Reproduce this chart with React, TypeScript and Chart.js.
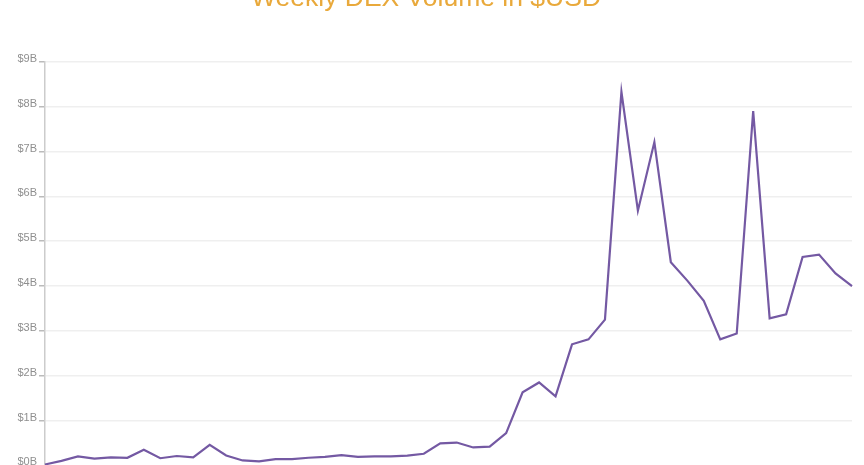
import React, { useEffect, useRef } from "react";
import { Chart, registerables } from "chart.js";

Chart.register(...registerables);

const titleText = "Weekly DEX Volume in $USD";

const weeks: string[] = Array.from({ length: 50 }, (_, i) => `Week ${i + 1}`);

const volumeB: number[] = [
  0.02, 0.1, 0.2, 0.15, 0.18, 0.17, 0.35, 0.16, 0.21, 0.18,
  0.46, 0.22, 0.11, 0.09, 0.14, 0.14, 0.17, 0.19, 0.23, 0.19,
  0.2, 0.2, 0.22, 0.26, 0.49, 0.51, 0.4, 0.42, 0.72, 1.63,
  1.85, 1.54, 2.7, 2.81, 3.25, 8.33, 5.68, 7.21, 4.53, 4.12,
  3.67, 2.81, 2.94, 7.9, 3.28, 3.37, 4.65, 4.7, 4.28, 4.0,
];

const yMin = 0;
const yMax = 9;
const yStep = 1;

export default function App() {
  const ref = useRef<HTMLCanvasElement | null>(null);

  useEffect(() => {
    if (!ref.current) return;
    const chart = new Chart(ref.current, {
      type: "line",
      data: {
        labels: weeks,
        datasets: [
          {
            label: "Weekly DEX Volume",
            data: volumeB,
            borderColor: "#7459a3",
            borderWidth: 2.2,
            pointRadius: 0,
            tension: 0,
            fill: false,
          },
        ],
      },
      options: {
        animation: false,
        responsive: true,
        maintainAspectRatio: false,
        layout: { padding: { left: 0, right: 12, top: 0, bottom: 0 } },
        plugins: {
          legend: { display: false },
          tooltip: { enabled: false },
          title: {
            display: true,
            text: titleText,
            color: "#e9a93b",
            font: { family: "'Liberation Sans', Arial, sans-serif", size: 26.5, weight: "normal" },
            padding: { top: 0, bottom: 47 },
          },
        },
        scales: {
          x: {
            type: "category",
            offset: false,
            ticks: { display: false },
            grid: { display: false, drawTicks: false },
            border: { display: true, color: "#dddddd" },
          },
          y: {
            min: yMin,
            max: yMax,
            afterFit: (scale: any) => {
              scale.width = 45;
            },
            ticks: {
              stepSize: yStep,
              color: "#8f8f8f",
              padding: 2,
              labelOffset: -3,
              font: { family: "'Liberation Sans', Arial, sans-serif", size: 11 },
              callback: (v: any) => `$${v}B`,
            },
            grid: {
              color: "#efefef",
              tickColor: "#bbbbbb",
              tickLength: 6,
              lineWidth: 1.5,
            },
            border: { display: true, color: "#cccccc", width: 1.5 },
          },
        },
      },
    });
    return () => chart.destroy();
  }, []);

  return (
    <div style={{ position: "absolute", left: 0, top: -17, width: 864, height: 491 }}>
      <canvas ref={ref} />
    </div>
  );
}
